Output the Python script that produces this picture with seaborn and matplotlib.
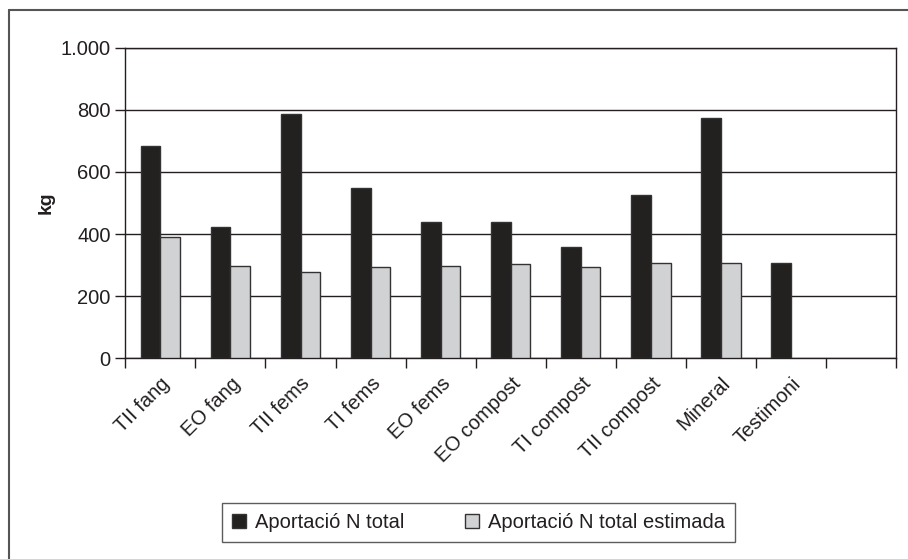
import numpy as np
import pandas as pd
import seaborn as sns
import matplotlib.pyplot as plt
from matplotlib.lines import Line2D
from matplotlib.ticker import FuncFormatter

# Data (kg)
categories = ['TII fang', 'EO fang', 'TII fems', 'TI fems', 'EO fems',
              'EO compost', 'TI compost', 'TII compost', 'Mineral', 'Testimoni']
n_total = [684, 424, 786, 549, 438, 438, 358, 527, 773, 307]
n_estimada = [390, 297, 279, 293, 297, 303, 293, 307, 307, np.nan]
series_names = ['Aportació N total', 'Aportació N total estimada']
y_ticks = [0, 200, 400, 600, 800, 1000]

df = pd.DataFrame({
    'cat': categories * 2,
    'kg': n_total + n_estimada,
    'serie': [series_names[0]] * len(categories) + [series_names[1]] * len(categories),
})

sns.set_style('white')
plt.rcParams['font.family'] = ['Liberation Sans Narrow', 'Liberation Sans', 'DejaVu Sans']
text_col = '#231f20'

fig = plt.figure(figsize=(9.08, 5.59), dpi=100)
ax = fig.add_axes([0.138, 0.3587, 0.849, 0.5563])

sns.barplot(data=df, x='cat', y='kg', hue='serie', order=categories,
            hue_order=series_names, palette=['#231f20', '#d1d2d4'],
            width=0.56, errorbar=None, edgecolor='#333333', linewidth=1,
            ax=ax, zorder=3)

ax.set_xlim(-0.5, len(categories) + 0.5)
ax.set_ylim(0, 1000)
ax.set_yticks(y_ticks)
ax.yaxis.set_major_formatter(FuncFormatter(lambda v, p: f'{int(v):,}'.replace(',', '.')))
ax.yaxis.grid(True, color='#231f20', linewidth=1, zorder=0)
ax.set_axisbelow(True)

# major ticks at category boundaries, labels at the centres
bounds = np.arange(-0.5, len(categories) + 1, 1)
ax.set_xticks(bounds)
ax.set_xticklabels([''] * len(bounds))
ax.set_xticks(np.arange(len(categories)), minor=True)
ax.set_xticklabels(categories, minor=True, rotation=45, ha='right',
                   rotation_mode='anchor', fontsize=14.5, color=text_col)
ax.tick_params(axis='x', which='major', direction='out', length=7, width=1,
               color='#231f20', bottom=True)
ax.tick_params(axis='x', which='minor', length=0, pad=11)
ax.tick_params(axis='y', direction='out', length=7, width=1, color='#231f20',
               left=True, labelsize=14.5, labelcolor=text_col)
for s in ax.spines.values():
    s.set_color('#231f20')
    s.set_linewidth(1)

ax.set_xlabel('')
ax.set_ylabel('kg', fontsize=14, fontweight='bold', color=text_col, labelpad=4)

leg = ax.legend(loc='center', bbox_to_anchor=(0.527, 0.066),
                bbox_transform=fig.transFigure, ncol=2, frameon=True,
                fancybox=False, edgecolor='#333333', fontsize=14.5,
                handlelength=0.7, handleheight=0.7, handletextpad=0.45,
                columnspacing=3.0, borderpad=0.5, labelcolor=text_col)
leg.get_frame().set_linewidth(1)

# outer frame: only left and top lines are visible
fig.add_artist(Line2D([8.5 / 908, 8.5 / 908], [0, 1 - 9.5 / 559],
                      transform=fig.transFigure, color='#555555', linewidth=1.5))
fig.add_artist(Line2D([8.5 / 908, 1], [1 - 9.5 / 559, 1 - 9.5 / 559],
                      transform=fig.transFigure, color='#555555', linewidth=1.5))

fig.savefig('out.png', dpi=100)
